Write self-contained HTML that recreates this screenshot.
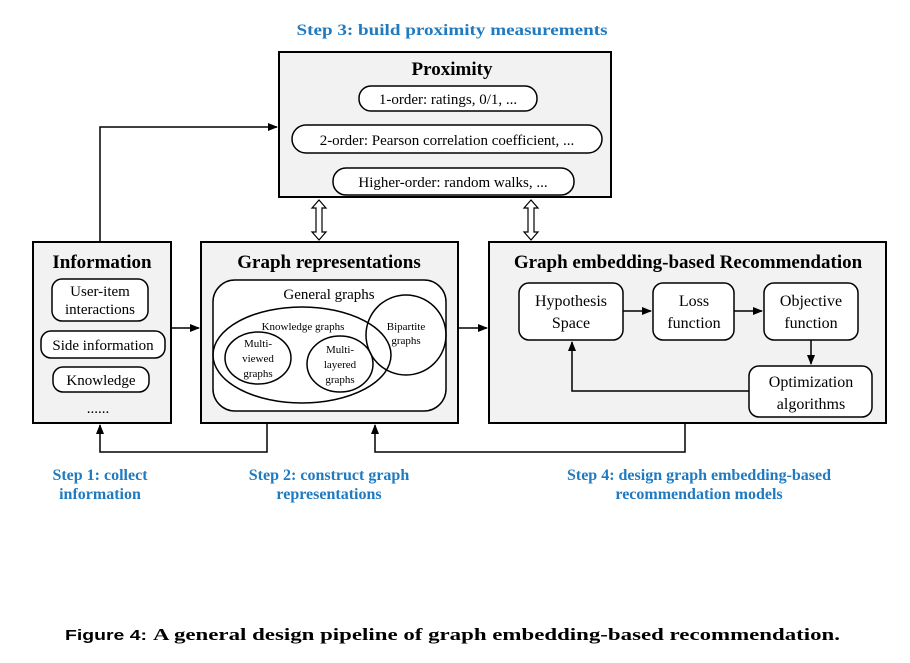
<!DOCTYPE html><html><head><style>body{margin:0;background:#fff}svg{display:block}</style></head><body>
<svg width="910" height="663" viewBox="0 0 910 663" xmlns="http://www.w3.org/2000/svg" font-family="Liberation Serif, serif">
<defs><marker id="a" markerWidth="10" markerHeight="10" refX="9" refY="5" orient="auto" markerUnits="userSpaceOnUse"><path d="M0,1 L10,5 L0,9 z" fill="#000"/></marker></defs>
<g fill="#1f7ac0" font-weight="bold" font-size="16" text-anchor="middle">
<text x="452" y="35" textLength="311" lengthAdjust="spacingAndGlyphs">Step 3: build proximity measurements</text>
<text x="100" y="480">Step 1: collect</text><text x="100" y="499">information</text>
<text x="329" y="480">Step 2: construct graph</text><text x="329" y="499">representations</text>
<text x="699" y="480">Step 4: design graph embedding-based</text><text x="699" y="499">recommendation models</text>
</g>
<g stroke="#000" stroke-width="2" fill="#f2f2f2">
<rect x="279" y="52" width="332" height="145"/>
<rect x="33" y="242" width="138" height="181"/>
<rect x="201" y="242" width="257" height="181"/>
<rect x="489" y="242" width="397" height="181"/>
</g>
<g stroke="#000" stroke-width="1.5" fill="#fff">
<rect x="359" y="86" width="178" height="25" rx="12"/>
<rect x="292" y="125" width="310" height="28" rx="14"/>
<rect x="333" y="168" width="241" height="27" rx="13"/>
<rect x="52" y="279" width="96" height="42" rx="10"/>
<rect x="41" y="331" width="124" height="27" rx="10"/>
<rect x="53" y="367" width="96" height="25" rx="10"/>
<rect x="213" y="280" width="233" height="131" rx="22"/>
<ellipse cx="302" cy="355" rx="89" ry="48" fill="none"/>
<ellipse cx="258" cy="358" rx="33" ry="26"/>
<ellipse cx="340" cy="364" rx="33" ry="28"/>
<circle cx="406" cy="335" r="40" fill="none"/>
<rect x="519" y="283" width="104" height="57" rx="10"/>
<rect x="653" y="283" width="81" height="57" rx="10"/>
<rect x="764" y="283" width="94" height="57" rx="10"/>
<rect x="749" y="366" width="123" height="51" rx="10"/>
</g>
<g stroke="#000" stroke-width="1.5" fill="none">
<path d="M100,242 V127 H277" marker-end="url(#a)"/>
<path d="M171,328 H199" marker-end="url(#a)"/>
<path d="M458,328 H487" marker-end="url(#a)"/>
<path d="M623,311 H651" marker-end="url(#a)"/>
<path d="M734,311 H762" marker-end="url(#a)"/>
<path d="M811,340 V364" marker-end="url(#a)"/>
<path d="M749,391 H572 V342" marker-end="url(#a)"/>
<path d="M267,423 V452 H100 V425" marker-end="url(#a)"/>
<path d="M685,423 V452 H375 V425" marker-end="url(#a)"/>
</g>
<g stroke="#000" stroke-width="1.2" fill="#fff">
<path d="M319,200 l-7,8 h4 v24 h-4 l7,8 l7,-8 h-4 v-24 h4 z"/>
<path d="M531,200 l-7,8 h4 v24 h-4 l7,8 l7,-8 h-4 v-24 h4 z"/>
</g>
<g text-anchor="middle" fill="#000">
<text x="452" y="75" font-weight="bold" font-size="19">Proximity</text>
<text x="448" y="104" font-size="15">1-order: ratings, 0/1, ...</text>
<text x="447" y="145" font-size="15">2-order: Pearson correlation coefficient, ...</text>
<text x="453" y="187" font-size="15">Higher-order: random walks, ...</text>
<text x="102" y="268" font-weight="bold" font-size="19">Information</text>
<text x="100" y="296" font-size="15">User-item</text><text x="100" y="314" font-size="15">interactions</text>
<text x="103" y="350" font-size="15">Side information</text>
<text x="101" y="385" font-size="15">Knowledge</text>
<text x="98" y="413" font-size="15">......</text>
<text x="329" y="268" font-weight="bold" font-size="19">Graph representations</text>
<text x="329" y="299" font-size="15">General graphs</text>
<text x="303" y="330" font-size="11">Knowledge graphs</text>
<text x="406" y="330" font-size="11">Bipartite</text><text x="406" y="344" font-size="11">graphs</text>
<text x="258" y="347" font-size="11">Multi-</text><text x="258" y="362" font-size="11">viewed</text><text x="258" y="377" font-size="11">graphs</text>
<text x="340" y="353" font-size="11">Multi-</text><text x="340" y="368" font-size="11">layered</text><text x="340" y="383" font-size="11">graphs</text>
<text x="688" y="268" font-weight="bold" font-size="19">Graph embedding-based Recommendation</text>
<text x="571" y="306" font-size="16">Hypothesis</text><text x="571" y="328" font-size="16">Space</text>
<text x="694" y="306" font-size="16">Loss</text><text x="694" y="328" font-size="16">function</text>
<text x="811" y="306" font-size="16">Objective</text><text x="811" y="328" font-size="16">function</text>
<text x="811" y="387" font-size="16">Optimization</text><text x="811" y="409" font-size="16">algorithms</text>
</g>
<text x="65" y="640" font-family="Liberation Sans, sans-serif" font-weight="bold" font-size="15" textLength="82" lengthAdjust="spacingAndGlyphs">Figure 4:</text>
<text x="153" y="640" font-weight="bold" font-size="17" textLength="687" lengthAdjust="spacingAndGlyphs">A general design pipeline of graph embedding-based recommendation.</text>
</svg></body></html>
